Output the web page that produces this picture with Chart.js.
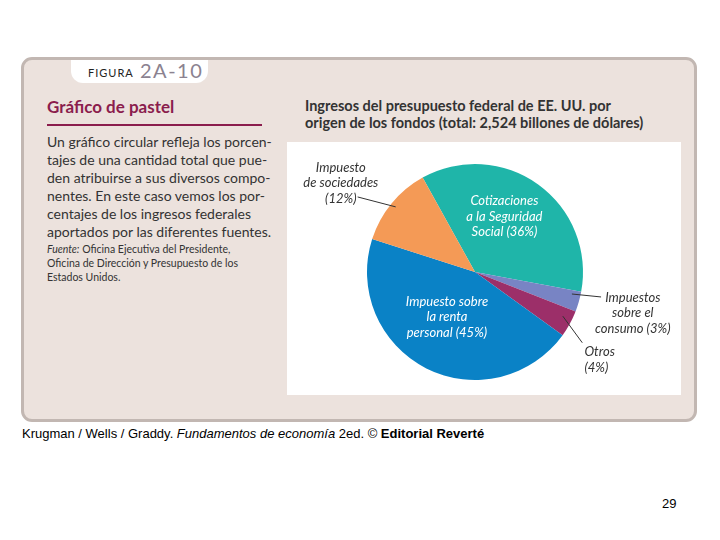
<!DOCTYPE html>
<html>
<head>
<meta charset="utf-8">
<script src="https://cdn.jsdelivr.net/npm/chart.js@4.4.1/dist/chart.umd.min.js"></script>
<style>
  html, body { margin: 0; padding: 0; background: #fff; }
  body { width: 720px; height: 540px; position: relative; overflow: hidden; font-family: Lato, "Noto Sans", sans-serif; color: #333; }
  .panel { position: absolute; left: 21px; top: 57px; width: 670px; height: 359px; background: #ece2dd; border: 3px solid #c2b7b2; border-radius: 11px; }
  .tab { position: absolute; left: 71px; top: 60px; width: 137px; height: 23px; background: #fff; border-radius: 0 0 12px 12px; }
  .tab .small { position: absolute; left: 17px; top: 6px; font-size: 11px; letter-spacing: 1px; color: #222; }
  .tab .big { position: absolute; left: 69px; top: -2px; font-size: 20px; color: #8b8290; letter-spacing: 1.5px; }
  .heading { position: absolute; left: 47px; top: 96px; font-size: 17px; font-weight: bold; color: #8b1d4d; }
  .rule { position: absolute; left: 47px; top: 124px; width: 215px; height: 2px; background: #8b1d4d; }
  .para { position: absolute; left: 47px; top: 133px; font-size: 14px; line-height: 17.9px; color: #333; white-space: nowrap; }
  .src { position: absolute; left: 47px; top: 242px; font-size: 10.5px; line-height: 14px; color: #333; white-space: nowrap; }
  .ctitle { position: absolute; left: 305px; top: 98px; font-size: 14.5px; font-weight: bold; line-height: 16.5px; color: #333; white-space: nowrap; }
  .box { position: absolute; left: 287px; top: 142px; width: 394px; height: 253px; background: #fff; }
  .footer { position: absolute; left: 22px; top: 426px; font-family: "Liberation Sans", Arial, sans-serif; font-size: 13px; color: #000; white-space: nowrap; }
  .page { position: absolute; left: 662px; top: 496px; font-family: "Liberation Sans", Arial, sans-serif; font-size: 13px; color: #000; }
</style>
</head>
<body>
<div class="panel"></div>
<div class="tab"><span class="small">FIGURA</span><span class="big">2A-10</span></div>
<div class="heading">Gráfico de pastel</div>
<div class="rule"></div>
<div class="para">Un gráfico circular refleja los porcen-<br>tajes de una cantidad total que pue-<br>den atribuirse a sus diversos compo-<br>nentes. En este caso vemos los por-<br>centajes de los ingresos federales<br>aportados por las diferentes fuentes.</div>
<div class="src"><i>Fuente:</i> Oficina Ejecutiva del Presidente,<br>Oficina de Dirección y Presupuesto de los<br>Estados Unidos.</div>
<div class="ctitle">Ingresos del presupuesto federal de EE. UU. por<br>origen de los fondos (total: 2,524 billones de dólares)</div>
<div class="box"><canvas id="pie" width="394" height="253"></canvas></div>
<div class="footer">Krugman / Wells / Graddy. <i>Fundamentos de economía</i> 2ed. © <b>Editorial Reverté</b></div>
<div class="page">29</div>

<script>
(function () {
  "use strict";

  // ── Data ─────────────────────────────────────────────────────────────
  var categories = [
    "Cotizaciones a la Seguridad Social",
    "Impuestos sobre el consumo",
    "Otros",
    "Impuesto sobre la renta personal",
    "Impuesto de sociedades"
  ];
  var shares = [36, 3, 4, 45, 12];
  var labelLines = [
    ["Cotizaciones", "a la Seguridad", "Social (" + shares[0] + "%)"],
    ["Impuestos", "sobre el", "consumo (" + shares[1] + "%)"],
    ["Otros", "(" + shares[2] + "%)"],
    ["Impuesto sobre", "la renta", "personal (" + shares[3] + "%)"],
    ["Impuesto", "de sociedades", "(" + shares[4] + "%)"]
  ];

  // ── Styling ──────────────────────────────────────────────────────────
  var colors = ["#1fb5a9", "#7884c4", "#9c2f69", "#0a82c6", "#f49a56"];

  // label placement: angle (deg, clockwise from top) and radius factor
  var labelLayout = [
    { text: [28, 0.58], inside: true },
    { text: [104.6, 1.51], from: [102.8, 0.92], to: [101.2, 1.19], align: "center" },
    { text: [128.8, 1.30], from: [116.7, 0.91], to: [123.4, 1.19], align: "left" },
    { text: [212, 0.49], inside: true },
    { text: [303.5, 1.49], from: [309.4, 0.95], to: [302.6, 1.29], align: "center" }
  ];

  function polar(cx, cy, r, deg, f) {
    var a = deg * Math.PI / 180;
    return { x: cx + Math.sin(a) * r * f, y: cy - Math.cos(a) * r * f };
  }

  var labelPlugin = {
    id: "sliceLabels",
    afterDatasetsDraw: function (chart) {
      var arc = chart.getDatasetMeta(0).data[0];
      if (!arc) return;
      var cx = arc.x, cy = arc.y, R = arc.outerRadius;
      var ctx = chart.ctx;
      ctx.save();
      ctx.font = "italic 13px Lato, 'Noto Sans', sans-serif";
      ctx.textBaseline = "middle";
      labelLayout.forEach(function (lay, i) {
        var p = polar(cx, cy, R, lay.text[0], lay.text[1]);
        if (lay.from) {
          var a = polar(cx, cy, R, lay.from[0], lay.from[1]);
          var b = polar(cx, cy, R, lay.to[0], lay.to[1]);
          ctx.strokeStyle = "#333";
          ctx.lineWidth = 1;
          ctx.beginPath();
          ctx.moveTo(a.x, a.y);
          ctx.lineTo(b.x, b.y);
          ctx.stroke();
        }
        ctx.fillStyle = lay.inside ? "#ffffff" : "#333333";
        ctx.textAlign = lay.align || "center";
        var lines = labelLines[i];
        var lh = 15.5;
        var y0 = p.y - (lines.length - 1) * lh / 2;
        lines.forEach(function (t, k) {
          ctx.fillText(t, p.x, y0 + k * lh);
        });
      });
      ctx.restore();
    }
  };

  // ── Chart ────────────────────────────────────────────────────────────
  function initChart() {
    var canvas = document.getElementById("pie");
    new Chart(canvas.getContext("2d"), {
      type: "pie",
      data: {
        labels: categories,
        datasets: [{
          data: shares,
          backgroundColor: colors,
          borderWidth: 0
        }]
      },
      options: {
        responsive: false,
        animation: false,
        rotation: -29,
        layout: { padding: { left: 80, right: 98, top: 22, bottom: 15 } },
        plugins: {
          legend: { display: false },
          tooltip: { enabled: false }
        }
      },
      plugins: [labelPlugin]
    });
  }

  initChart();
})();
</script>
</body>
</html>
